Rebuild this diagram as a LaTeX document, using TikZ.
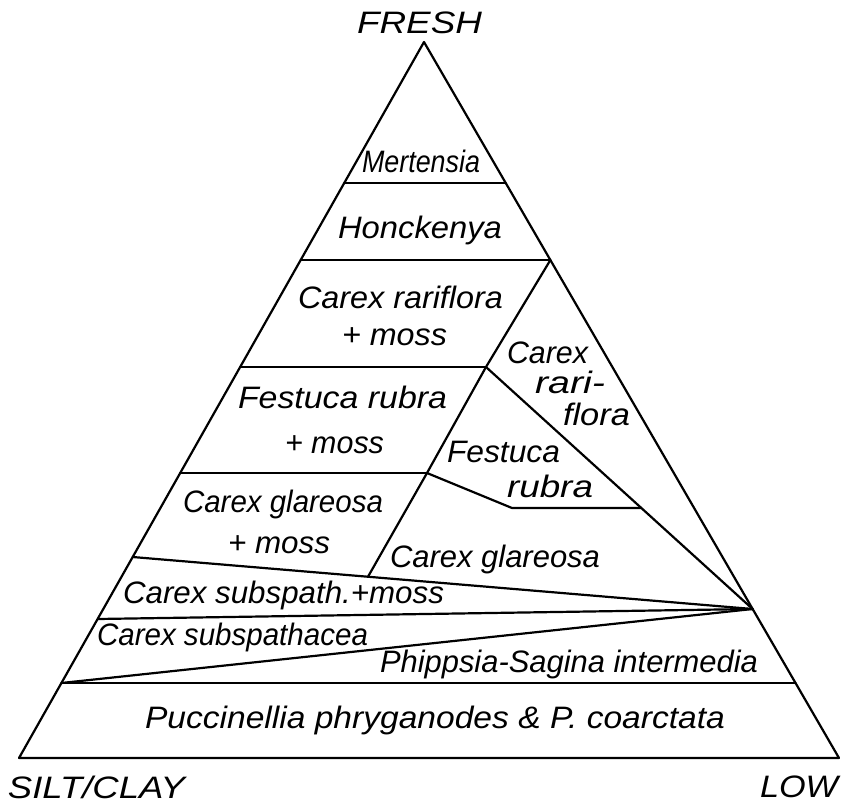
\documentclass[tikz,border=0pt]{standalone}
\usepackage{fontspec}
\setmainfont{Liberation Sans}
\newcommand\fitw[2]{\setbox0=\hbox{#2}\pgfmathsetmacro\fitfac{#1/\the\wd0}\scalebox{\fitfac}[1]{\box0}}
\begin{document}
\begin{tikzpicture}[x=1pt,y=-1pt,
  edge/.style={line width=2.2pt, line join=round, line cap=round},
  lab/.style={anchor=base west, inner sep=0pt, outer sep=0pt, font=\fontsize{31}{37}\selectfont\itshape}]
\useasboundingbox (0,0) rectangle (849,806);
% corners
\coordinate (A) at (424,42);
\coordinate (BL) at (19,758);
\coordinate (BR) at (839,758);
% points on edges and inside
\coordinate (L1) at (344.2,183);
\coordinate (R1) at (505.7,183);
\coordinate (L2) at (300.7,260);
\coordinate (R2) at (550.4,260);
\coordinate (L3) at (240.2,367);
\coordinate (P2) at (486,367);
\coordinate (L4) at (180.2,473);
\coordinate (P3) at (427,473);
\coordinate (L5) at (132.7,557);
\coordinate (P4) at (368,576.7);
\coordinate (C) at (752.6,609);
\coordinate (L6) at (97.6,619);
\coordinate (L7) at (61.4,683);
\coordinate (R7) at (795.5,683);
\coordinate (P5) at (512,508);
\coordinate (P6) at (641.3,508);
% outline
\draw[edge] (A) -- (BL) -- (BR) -- cycle;
% dividers
\draw[edge] (L1) -- (R1);
\draw[edge] (L2) -- (R2);
\draw[edge] (L3) -- (P2);
\draw[edge] (L4) -- (P3);
\draw[edge] (R2) -- (P2) -- (P3) -- (P4);
\draw[edge] (P2) -- (C);
\draw[edge] (P3) -- (P5) -- (P6);
\draw[edge] (L5) -- (C);
\draw[edge] (L6) -- (C);
\draw[edge] (L7) -- (C);
\draw[edge] (L7) -- (R7);
% labels
\node[lab] (fresh) at (357,33) {\fitw{125}{FRESH}};
\node[lab] (mert) at (362,172) {\fitw{118}{Mertensia}};
\node[lab] (honck) at (338,238) {\fitw{164}{Honckenya}};
\node[lab] (crm1) at (298,308) {\fitw{205}{Carex rariflora}};
\node[lab] (crm2) at (342,345) {\fitw{105}{+ moss}};
\node[lab] (frm1) at (238,408) {\fitw{209}{Festuca rubra}};
\node[lab] (frm2) at (285,453) {\fitw{99}{+ moss}};
\node[lab] (cgm1) at (183,512) {\fitw{200}{Carex glareosa}};
\node[lab] (cgm2) at (228,553) {\fitw{102}{+ moss}};
\node[lab] (cr1) at (507,363) {\fitw{81}{Carex}};
\node[lab] (cr2) at (535,393) {\fitw{70}{rari-}};
\node[lab] (cr3) at (563,425) {\fitw{67}{flora}};
\node[lab] (fr1) at (447,462) {\fitw{113}{Festuca}};
\node[lab] (fr2) at (507,497) {\fitw{86}{rubra}};
\node[lab] (cg) at (390,567) {\fitw{210}{Carex glareosa}};
\node[lab] (csm) at (123,603) {\fitw{321}{Carex subspath.+moss}};
\node[lab] (cs) at (97,645) {\fitw{271}{Carex subspathacea}};
\node[lab] (ps) at (380,672) {\fitw{378}{Phippsia-Sagina intermedia}};
\node[lab] (pu) at (145,728) {\fitw{580}{Puccinellia phryganodes \& P. coarctata}};
\node[lab] (silt) at (8,798) {\fitw{177}{SILT/CLAY}};
\node[lab] (low) at (760,797) {\fitw{78}{LOW}};
\end{tikzpicture}
\end{document}
